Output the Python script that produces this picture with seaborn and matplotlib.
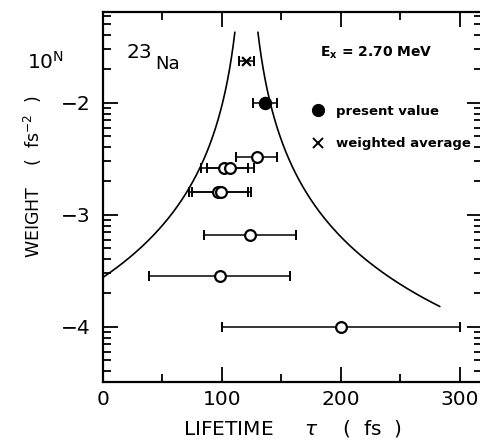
import numpy as np
import pandas as pd
import matplotlib
matplotlib.use("Agg")
import matplotlib.pyplot as plt
import seaborn as sns
from matplotlib.lines import Line2D
from matplotlib.ticker import LogLocator, FuncFormatter, NullFormatter, MultipleLocator

# lifetimes of the 2.70 MeV level in 23Na (fs) with their 1-sigma errors
tau_prev = [129, 102, 107, 97, 99.5, 123.5, 98, 200]
err_prev = [17.5, 19.5, 19.5, 25, 25, 39, 59.5, 100]

tau_present = [136]
err_present = [10]

tau_avg = [120.5]
err_avg = [6.5]

# envelope drawn at weighted average +- 2 sigma (weight = 1 / sigma^2)
band_k = 2
band_w_top = 10 ** -1.37
band_w_right_end = 10 ** -3.82


def weight(err):
    return 1.0 / np.asarray(err, dtype=float) ** 2


prev = pd.DataFrame({"tau": tau_prev, "err": err_prev})
prev["w"] = weight(prev["err"])
present = pd.DataFrame({"tau": tau_present, "err": err_present})
present["w"] = weight(present["err"])
avg = pd.DataFrame({"tau": tau_avg, "err": err_avg})
avg["w"] = weight(avg["err"])

# envelope curves
c = tau_avg[0]
w_left = np.geomspace(band_w_top, (band_k / c) ** 2, 300)
w_right = np.geomspace(band_w_top, band_w_right_end, 300)
left = pd.DataFrame({"tau": c - band_k / np.sqrt(w_left), "w": w_left})
right = pd.DataFrame({"tau": c + band_k / np.sqrt(w_right), "w": w_right})

sns.set_style("ticks")
plt.rcParams["font.family"] = ["DejaVu Sans"]
plt.rcParams["mathtext.default"] = "regular"
plt.rcParams["text.color"] = "black"
plt.rcParams["axes.labelcolor"] = "black"

W, H = 481, 444
fig = plt.figure(figsize=(W / 100, H / 100), dpi=100)
ax = fig.add_axes([103 / W, 1 - 382 / H, 379 / W, 370 / H])

# envelope
sns.lineplot(data=left, x="tau", y="w", sort=False, estimator=None,
             color="black", lw=1.2, ax=ax)
sns.lineplot(data=right, x="tau", y="w", sort=False, estimator=None,
             color="black", lw=1.2, ax=ax)

# error bars
for df in (prev, present, avg):
    ax.errorbar(df["tau"], df["w"], xerr=df["err"], fmt="none",
                ecolor="black", elinewidth=1.1, capsize=3.5, capthick=1.4)

# markers
sns.scatterplot(data=prev, x="tau", y="w", marker="o", s=60, color="white",
                edgecolor="black", linewidth=1.6, zorder=5, ax=ax)
sns.scatterplot(data=present, x="tau", y="w", marker="o", s=75, color="black",
                edgecolor="black", linewidth=1, zorder=5, ax=ax)
sns.scatterplot(data=avg, x="tau", y="w", marker="x", s=40, color="black",
                linewidth=1.6, zorder=5, ax=ax)

ax.set_yscale("log")
ax.set_xlim(0, 318.5)
ax.set_ylim(10 ** -4.494, 10 ** -1.19)

ax.xaxis.set_major_locator(MultipleLocator(100))
ax.xaxis.set_minor_locator(MultipleLocator(50))
ax.yaxis.set_major_locator(LogLocator(base=10, numticks=10))
ax.yaxis.set_minor_locator(LogLocator(base=10, subs=np.arange(2, 10), numticks=20))
ax.yaxis.set_major_formatter(FuncFormatter(lambda v, p: "\u2212%d" % round(-np.log10(v))))
ax.yaxis.set_minor_formatter(NullFormatter())

ax.tick_params(which="both", direction="in", top=True, right=True,
               width=1.3, colors="black", labelsize=14.5)
ax.tick_params(which="major", length=11)
ax.tick_params(which="minor", length=5.5)
ax.tick_params(axis="x", pad=6)
ax.tick_params(axis="y", pad=9)
for s in ax.spines.values():
    s.set_linewidth(1.6)
    s.set_color("black")

ax.set_xlabel("LIFETIME     $\\mathit{\\tau}$    (  fs  )", fontsize=14.5, labelpad=6)
ax.set_ylabel("WEIGHT    (  fs$^{-2}$  )", fontsize=12.5)
ax.yaxis.set_label_coords(-0.155, (382 - 177) / 370)

# legend
handles = [Line2D([], [], marker="o", ls="none", color="black", ms=8.5),
           Line2D([], [], marker="x", ls="none", color="black", ms=7, mew=1.4)]
ax.legend(handles, ["present value", "weighted average"], loc="upper left",
          bbox_to_anchor=(0.553, 0.75), frameon=False, borderpad=0,
          borderaxespad=0, handlelength=0.8, handletextpad=1.0,
          labelspacing=1.5, prop={"size": 9.5, "weight": "bold"})

# annotations
fig.text(320 / W, 1 - 53 / H, "E$_\\mathbf{x}$ = 2.70 MeV", fontsize=10,
         fontweight="bold", va="center", ha="left")
fig.text(127 / W, 1 - 52 / H, "23", fontsize=14.5, va="center", ha="left")
fig.text(155 / W, 1 - 64 / H, "Na", fontsize=13, va="center", ha="left")
fig.text(27 / W, 1 - 62 / H, "10$^{N}$", fontsize=14.5, va="center", ha="left")

fig.savefig("out.png", dpi=100)
